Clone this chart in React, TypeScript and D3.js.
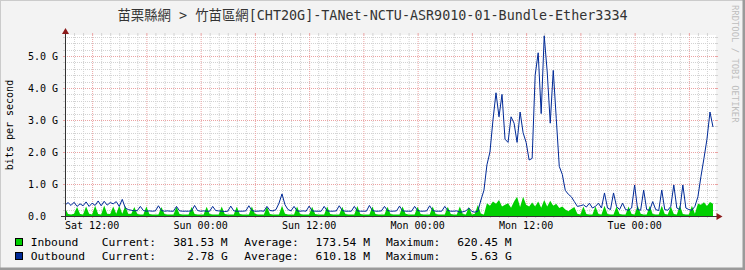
import React, { useEffect } from "react";
import * as d3 from "d3";

const TITLE = "苗栗縣網 > 竹苗區網[CHT20G]-TANet-NCTU-ASR9010-01-Bundle-Ether3334";
const Y_LABEL = "bits per second";
const WATERMARK = "RRDTOOL / TOBI OETIKER";

// 20-minute samples starting Sat 09:00, values in Mbit/s
const STEP_HOURS = 1 / 3;

const inboundM = [
  260, 60, 50, 70, 280, 60,
  50, 300, 70, 50, 320, 60,
  50, 330, 70, 60, 300, 70,
  320, 70, 310, 60, 70, 280,
  60, 50, 50, 300, 60, 50,
  50, 50, 280, 60, 50, 50,
  50, 290, 60, 50, 50, 50,
  280, 60, 50, 50, 50, 290,
  60, 50, 50, 50, 300, 60,
  50, 50, 50, 290, 60, 50,
  50, 50, 300, 70, 50, 50,
  50, 300, 60, 50, 50, 50,
  320, 70, 50, 50, 50, 300,
  60, 50, 50, 50, 290, 60,
  50, 50, 50, 300, 60, 50,
  50, 50, 290, 60, 50, 50,
  50, 310, 60, 50, 50, 50,
  300, 60, 50, 50, 50, 290,
  60, 50, 50, 50, 300, 70,
  50, 50, 50, 290, 60, 50,
  50, 50, 300, 60, 50, 50,
  50, 290, 60, 50, 50, 300,
  60, 50, 280, 50, 70, 350,
  70, 50, 400, 320, 450, 380,
  500, 300, 350, 400, 260, 450,
  600, 280, 600, 350, 300, 420,
  300, 450, 260, 500, 300, 480,
  320, 380, 250, 300, 200, 150,
  220, 280, 70, 50, 300, 60,
  50, 50, 300, 60, 50, 320,
  60, 50, 50, 300, 60, 50,
  50, 300, 60, 50, 330, 70,
  50, 50, 310, 60, 50, 50,
  320, 60, 50, 300, 60, 50,
  330, 60, 50, 50, 320, 70,
  380, 350, 430, 310, 440, 381.53,
];

const outboundM = [
  340, 420, 330, 430, 300, 380,
  320, 440, 300, 400, 330, 470,
  320, 460, 340, 420, 380, 450,
  300, 520, 250, 200, 180, 160,
  170, 300, 170, 150, 160, 150,
  160, 320, 170, 150, 160, 150,
  150, 300, 160, 150, 150, 150,
  160, 330, 170, 150, 160, 150,
  150, 300, 170, 160, 150, 140,
  150, 310, 160, 150, 150, 150,
  160, 320, 170, 150, 150, 160,
  150, 300, 170, 160, 200, 400,
  690, 350, 200, 160, 300, 160,
  150, 160, 150, 310, 160, 150,
  150, 150, 300, 160, 150, 150,
  160, 320, 170, 150, 150, 150,
  300, 160, 150, 150, 150, 330,
  170, 150, 150, 160, 300, 170,
  150, 150, 160, 310, 160, 150,
  150, 150, 300, 170, 150, 150,
  160, 320, 170, 150, 150, 150,
  300, 170, 150, 150, 160, 120,
  130, 160, 250, 140, 120, 150,
  500, 800, 1600, 2000, 3000, 3850,
  3100, 3800, 2400, 2300, 3100, 2900,
  2300, 3250, 2600, 2300, 1750, 1800,
  4400, 5100, 3200, 5630, 4500, 2900,
  4550, 3050, 1550, 1300, 800, 680,
  600, 450, 300, 320, 350, 280,
  400, 250, 300, 400, 250, 720,
  250, 200, 720, 300, 200, 400,
  200, 180, 250, 970, 200, 180,
  810, 200, 180, 450, 200, 170,
  810, 200, 180, 300, 970, 250,
  200, 970, 250, 200, 180, 300,
  600, 1230, 1800, 2400, 3250, 2780,
];

const yTickValuesG = [0, 1, 2, 3, 4, 5];
const yTickLabels = ["0.0", "1.0 G", "2.0 G", "3.0 G", "4.0 G", "5.0 G"];
const xTickHours = [3, 15, 27, 39, 51, 63];
const xTickLabels = ["Sat 12:00", "Sun 00:00", "Sun 12:00", "Mon 00:00", "Mon 12:00", "Tue 00:00"];

const legendNames = ["Inbound", "Outbound"];
const legendColors = ["#00cf00", "#002a97"];
const legendCurrent = ["381.53 M", "2.78 G"];
const legendAverage = ["173.54 M", "610.18 M"];
const legendMaximum = ["620.45 M", "5.63 G"];

const W = 745;
const H = 270;
const X0 = 65;
const X1 = 716;
const Y0 = 216;
const Y1 = 35;
const TOTAL_HOURS = 72;
const MONO = "'DejaVu Sans Mono', monospace";

export default function App() {
  useEffect(() => {
    document.body.style.margin = "0";
  }, []);

  const x = d3.scaleLinear().domain([0, TOTAL_HOURS]).range([X0, X1]);
  const y = d3.scaleLinear().domain([0, ((Y0 - Y1) / 32) * 1000]).range([Y0, Y1]);

  const inData = inboundM.map((v, i) => ({ t: i * STEP_HOURS, v }));
  const outData = outboundM.map((v, i) => ({ t: i * STEP_HOURS, v }));

  const area = d3
    .area<{ t: number; v: number }>()
    .x((d) => x(d.t))
    .y0(y(0))
    .y1((d) => y(d.v));
  const line = d3
    .line<{ t: number; v: number }>()
    .x((d) => x(d.t))
    .y((d) => y(d.v));

  const minorH = d3.range(1, TOTAL_HOURS).filter((h) => h % 6 !== 3);
  const majorH = d3.range(3, TOTAL_HOURS, 6);
  const minorY = d3.range(1, 29).map((k) => k * 200).filter((v) => v % 1000 !== 0);
  const majorY = [1000, 2000, 3000, 4000, 5000];

  const minorCol = "#d2d2d2";
  const majorCol = "#eba3a3";

  return (
    <svg
      width={W}
      height={H}
      style={{ position: "absolute", left: 0, top: 0, display: "block" }}
      xmlns="http://www.w3.org/2000/svg"
    >
      <rect x={0} y={0} width={W} height={H} fill="#f3f3f3" />
      {/* 3D border */}
      <path d={`M0,${H} L0,0 L${W},0`} stroke="#cbcbcb" strokeWidth={2} fill="none" />
      <path d={`M0,${H - 1} L${W - 1},${H - 1} L${W - 1},0`} stroke="#9a9a9a" strokeWidth={3} fill="none" />

      {/* canvas */}
      <rect x={X0} y={Y1} width={X1 - X0} height={Y0 - Y1} fill="#ffffff" />

      {/* minor vertical grid */}
      {minorH.map((h) => (
        <g key={"mv" + h}>
          <line x1={x(h) + 0.5} x2={x(h) + 0.5} y1={Y0} y2={Y1} stroke={minorCol} strokeDasharray="1,1" />
          <line x1={x(h) + 0.5} x2={x(h) + 0.5} y1={Y1 - 2} y2={Y1} stroke={minorCol} />
          <line x1={x(h) + 0.5} x2={x(h) + 0.5} y1={Y0} y2={Y0 + 2} stroke={minorCol} />
        </g>
      ))}
      {minorY.map((v) => (
        <g key={"mh" + v}>
          <line x1={X0} x2={X1} y1={Math.round(y(v)) + 0.5} y2={Math.round(y(v)) + 0.5} stroke={minorCol} strokeDasharray="1,1" />
          <line x1={X0 - 2} x2={X0} y1={Math.round(y(v)) + 0.5} y2={Math.round(y(v)) + 0.5} stroke={minorCol} />
          <line x1={X1} x2={X1 + 2} y1={Math.round(y(v)) + 0.5} y2={Math.round(y(v)) + 0.5} stroke={minorCol} />
        </g>
      ))}
      {/* major grid */}
      {majorH.map((h) => (
        <g key={"Mv" + h}>
          <line x1={x(h) + 0.5} x2={x(h) + 0.5} y1={Y0} y2={Y1} stroke={majorCol} strokeDasharray="1,1" />
          <line x1={x(h) + 0.5} x2={x(h) + 0.5} y1={Y1 - 2} y2={Y1} stroke={majorCol} />
          <line x1={x(h) + 0.5} x2={x(h) + 0.5} y1={Y0} y2={Y0 + 2} stroke={majorCol} />
        </g>
      ))}
      {majorY.map((v) => (
        <g key={"Mh" + v}>
          <line x1={X0} x2={X1} y1={Math.round(y(v)) + 0.5} y2={Math.round(y(v)) + 0.5} stroke={majorCol} strokeDasharray="1,1" />
          <line x1={X0 - 2} x2={X0} y1={Math.round(y(v)) + 0.5} y2={Math.round(y(v)) + 0.5} stroke={majorCol} />
          <line x1={X1} x2={X1 + 2} y1={Math.round(y(v)) + 0.5} y2={Math.round(y(v)) + 0.5} stroke={majorCol} />
        </g>
      ))}

      {/* data */}
      <path d={area(inData) || ""} fill={legendColors[0]} />
      <path d={line(outData) || ""} fill="none" stroke={legendColors[1]} strokeWidth={1} />

      {/* axes */}
      <line x1={X0 - 4} x2={X1 + 1} y1={Y0 + 0.5} y2={Y0 + 0.5} stroke="#333333" />
      <line x1={X0 + 0.5} x2={X0 + 0.5} y1={Y0 + 4} y2={Y1 - 2} stroke="#333333" />
      <path d={`M${X1 + 0.5},${Y0 - 3} L${X1 + 6.5},${Y0 + 0.5} L${X1 + 0.5},${Y0 + 4} Z`} fill="#8b1a1a" />
      <path d={`M${X0 - 3},${Y1 - 1} L${X0 + 0.5},${Y1 - 7} L${X0 + 4},${Y1 - 1} Z`} fill="#8b1a1a" />

      {/* y tick labels */}
      {yTickValuesG.map((g, i) => (
        <text key={"yl" + g} x={28} y={y(g * 1000) + 3.5} fontFamily={MONO} fontSize={10} fill="#000">
          {yTickLabels[i]}
        </text>
      ))}
      {/* x tick labels */}
      {xTickHours.map((h, i) => (
        <text key={"xl" + h} x={x(h)} y={229} textAnchor="middle" fontFamily={MONO} fontSize={10} fill="#000">
          {xTickLabels[i]}
        </text>
      ))}

      {/* y axis title */}
      <text transform={`translate(13,125) rotate(-90)`} textAnchor="middle" fontFamily={MONO} fontSize={10} fill="#000">
        {Y_LABEL}
      </text>

      {/* title */}
      <text x={372.5} y={20} textAnchor="middle" fontFamily={"'DejaVu Sans Mono', 'Noto Sans CJK TC', monospace"} fontSize={13.4} fill="#333">
        {TITLE}
      </text>

      {/* watermark */}
      <text transform={`translate(732,5) rotate(90)`} fontFamily={MONO} fontSize={8.9} fill="#bdbdbd">
        {WATERMARK}
      </text>

      {/* legend */}
      {legendNames.map((name, i) => {
        const by = 246 + i * 14;
        return (
          <g key={"lg" + i} fontFamily={MONO} fontSize={11.3} fill="#000">
            <rect x={15.5} y={by - 7.5} width={7} height={7} fill={legendColors[i]} stroke="#000" strokeWidth={1} />
            <text x={30.7} y={by}>{name}</text>
            <text x={101.7} y={by}>Current:</text>
            <text x={227.7} y={by} textAnchor="end">{legendCurrent[i]}</text>
            <text x={244.3} y={by}>Average:</text>
            <text x={370} y={by} textAnchor="end">{legendAverage[i]}</text>
            <text x={386} y={by}>Maximum:</text>
            <text x={511.7} y={by} textAnchor="end">{legendMaximum[i]}</text>
          </g>
        );
      })}
    </svg>
  );
}
